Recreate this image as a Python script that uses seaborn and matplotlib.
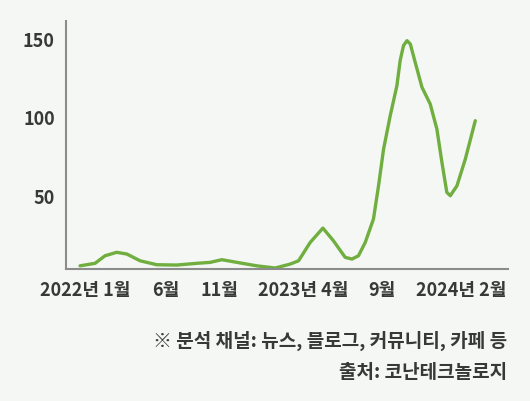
import numpy as np
import pandas as pd
import matplotlib
matplotlib.use("Agg")
import matplotlib.pyplot as plt
import seaborn as sns

sns.set_theme(style="white")
plt.rcParams["font.family"] = ["Noto Sans CJK KR", "DejaVu Sans"]

# months since 2022-01 and mention counts
months = [0.0, 0.95, 1.58, 2.32, 2.96, 3.8, 4.85, 6.12, 7.39, 8.23, 8.97,
          9.92, 11.18, 12.34, 13.29, 13.82, 14.56, 15.36, 16.03, 16.77,
          17.2, 17.61, 18.04, 18.56, 18.88, 19.2, 19.62, 20.04, 20.25,
          20.46, 20.68, 20.89, 21.2, 21.63, 22.15, 22.57, 22.89, 23.2,
          23.42, 23.84, 24.37, 25.0]
mentions = [5.3, 6.9, 11.7, 13.9, 12.8, 8.5, 6.0, 5.8, 6.9, 7.5, 9.2,
            7.5, 5.3, 3.9, 6.4, 8.5, 20.2, 29.3, 21.2, 10.7,
            9.6, 11.7, 20.2, 35.1, 56.2, 79.6, 100.8, 119.8, 136.0,
            145.4, 148.5, 146.4, 134.7, 118.8, 108.2, 92.3, 71.1, 52.0,
            49.9, 56.2, 73.2, 97.6]

tick_pos = [0.32, 5.41, 8.8, 14.1, 19.1, 24.1]
tick_labels = ["2022년 1월", "6월", "11월", "2023년 4월", "9월", "2024년 2월"]
y_ticks = [50, 100, 150]

notes = ["※ 분석 채널: 뉴스, 블로그, 커뮤니티, 카페 등", "출처: 코난테크놀로지"]

bg = "#f4f7f3"
txt = "#383838"
df = pd.DataFrame({"month": months, "mentions": mentions})

fig = plt.figure(figsize=(5.3, 4.02), dpi=100, facecolor=bg)
ax = fig.add_axes([0.1245, 0.3296, 0.9594 - 0.1245, 0.946 - 0.3296])
ax.set_facecolor(bg)

sns.lineplot(data=df, x="month", y="mentions", ax=ax, color="#6fae3f",
             linewidth=2.4, solid_capstyle="round", solid_joinstyle="round")

ax.set_xlim(-0.89, 27.1)
ax.set_ylim(3.6, 161.2)
ax.set_xticks(tick_pos)
ax.set_xticklabels(tick_labels, fontweight="bold")
ax.set_yticks(y_ticks)
ax.set_yticklabels([str(v) for v in y_ticks], fontweight="bold")
ax.set_xlabel("")
ax.set_ylabel("")
ax.tick_params(axis="x", length=0, pad=8, labelsize=13, colors=txt)
ax.tick_params(axis="y", length=0, pad=8, labelsize=13, colors=txt)

for s in ["top", "right"]:
    ax.spines[s].set_visible(False)
for s in ["left", "bottom"]:
    ax.spines[s].set_color("#8c8c8c")
    ax.spines[s].set_linewidth(1.5)

fig.text(507 / 530, 1 - 341 / 402, notes[0], ha="right", va="center",
         fontsize=13.7, fontweight="bold", color=txt)
fig.text(507 / 530, 1 - 373 / 402, notes[1], ha="right", va="center",
         fontsize=13.7, fontweight="bold", color=txt)

fig.savefig("out.png", dpi=100, facecolor=bg)
